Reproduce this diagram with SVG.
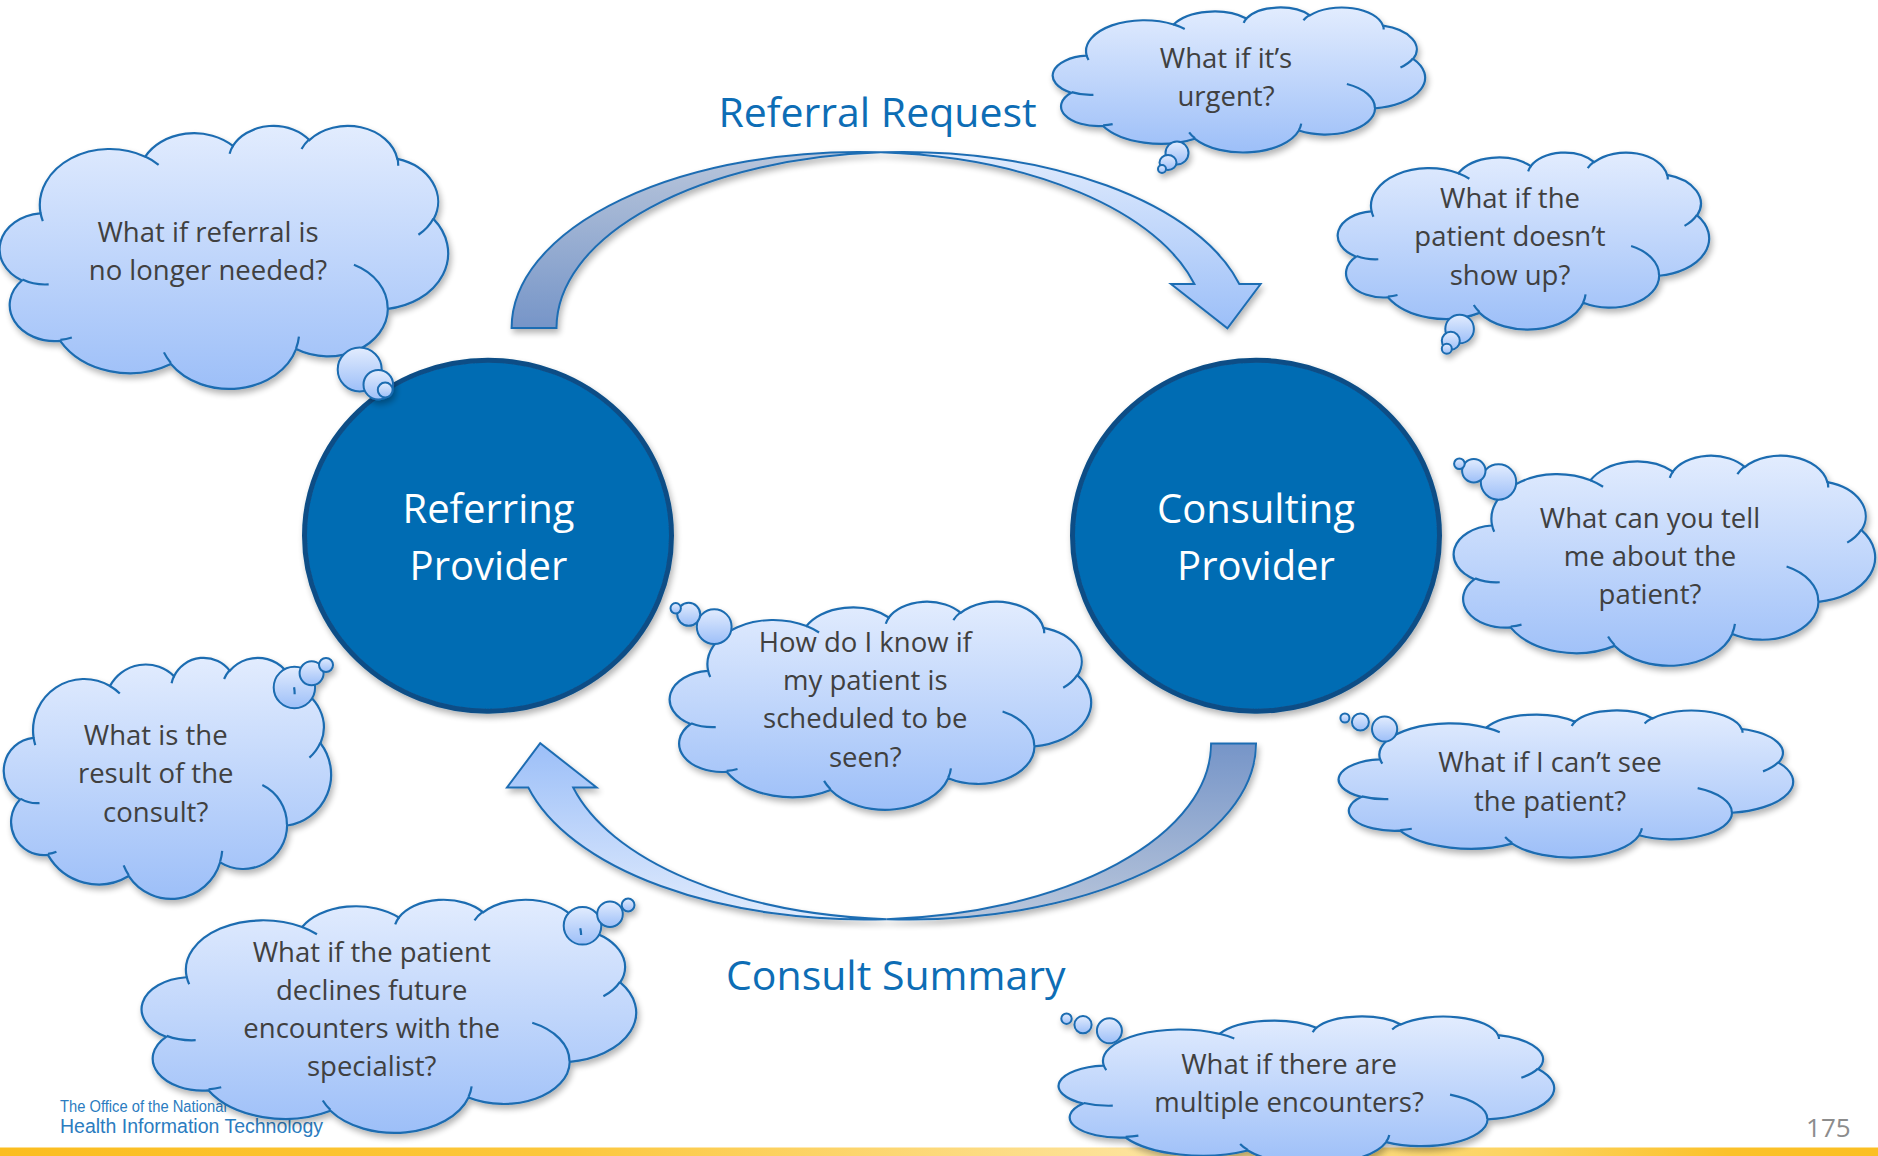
<svg xmlns="http://www.w3.org/2000/svg" xmlns:xlink="http://www.w3.org/1999/xlink" width="1878" height="1156" viewBox="0 0 1878 1156">
<defs>
<linearGradient id="gc" x1="0" y1="0" x2="0" y2="1"><stop offset="0" stop-color="#e2ecfe"/><stop offset="1" stop-color="#9dbff8"/></linearGradient>
<linearGradient id="gf" x1="0" y1="0" x2="0" y2="1"><stop offset="0" stop-color="#e0ebfd"/><stop offset="1" stop-color="#9cbff8"/></linearGradient>
<linearGradient id="gb" x1="0" y1="0" x2="0" y2="1"><stop offset="0" stop-color="#b9c6db"/><stop offset="1" stop-color="#7695c8"/></linearGradient>
<linearGradient id="gbar" x1="0" y1="0" x2="1" y2="0"><stop offset="0" stop-color="#fbbd1f"/><stop offset="0.3" stop-color="#fcc73c"/><stop offset="0.62" stop-color="#fde4a0"/><stop offset="0.82" stop-color="#fcd25c"/><stop offset="0.92" stop-color="#fbc12a"/><stop offset="1" stop-color="#fbbf22"/></linearGradient>
<filter id="sh" x="-10%" y="-10%" width="125%" height="130%"><feGaussianBlur in="SourceAlpha" stdDeviation="3"/><feOffset dx="2" dy="4" result="o"/><feComponentTransfer><feFuncA type="linear" slope="0.3"/></feComponentTransfer><feMerge><feMergeNode/><feMergeNode in="SourceGraphic"/></feMerge></filter>
<path id="cb" vector-effect="non-scaling-stroke" d="M 39 143.7 A 67.53 91.9 0 0 1 140.06 52.03 A 53.33 72.67 0 0 1 224.57 34.33 A 43.65 59.45 0 0 1 298.33 24.79 A 48.57 65.95 0 0 1 383.18 55.76 A 53.33 72.73 0 0 1 418.18 154.59 A 67.75 92.2 0 0 1 374.03 302 A 57.85 78.67 0 0 1 285.55 368.1 A 67.52 92.15 0 0 1 164.8 392.63 A 77.2 105.43 0 0 1 58.02 354.67 A 43.6 59.18 0 0 1 21.11 255.46 A 43.45 59.45 0 0 1 38.61 145.03 Z"/>
<path id="ca" vector-effect="non-scaling-stroke" fill="none" d="M 46.93 261.77 A 43.45 59.45 0 0 1 21.59 253.79 M 69.28 348.99 A 43.6 59.18 0 0 1 58.19 352.81 M 164.78 390.9 A 67.52 92.15 0 0 1 158.09 373.48 M 288.27 347.51 A 67.52 92.15 0 0 1 285.61 366.59 M 341.29 229.54 A 57.85 78.67 0 0 1 373.81 300.9 M 417.98 153.54 A 53.33 72.73 0 0 1 403.5 180.3 M 383.24 54.26 A 48.57 65.95 0 0 1 384 66.9 M 290.78 39.52 A 48.57 65.95 0 0 1 298.21 23.38 M 221.41 47.2 A 43.65 59.45 0 0 1 225 33.31 M 140 51.92 A 67.53 91.9 0 0 1 152.98 65.38 M 41.27 157.89 A 67.53 91.9 0 0 1 39 143.71"/>
<g id="arrowShape">
<path class="back" d="M 511.6 328 A 346.9 176 0 0 1 880.95 152.37 A 346.9 176 0 0 0 556.5 328 Z"/>
<path class="front" d="M 880.95 152.37 A 346.9 176 0 0 1 1239.3 284 L 1260.6 284 L 1227.4 328.3 L 1171 284 L 1194.4 284 A 346.9 176 0 0 0 880.95 152.37 Z"/>
</g>
</defs>
<style>
.body{fill:url(#gc);stroke:#1b6cb1;stroke-width:2.2}
.arcs{stroke:#1b6cb1;stroke-width:2.2}
.bub{fill:url(#gc);stroke:#1b6cb1;stroke-width:2}
.ct{font-family:"Open Sans","DejaVu Sans",sans-serif;font-size:27.5px;fill:#404040;text-anchor:middle}
.pv{fill:#066cb3;stroke:#0a4e86;stroke-width:5}
.pt{font-family:"Open Sans","DejaVu Sans",sans-serif;font-size:40px;fill:#ffffff;text-anchor:middle}
.tt{font-family:"Open Sans","DejaVu Sans",sans-serif;font-size:41px;fill:#0d6db5;text-anchor:middle}
.back{fill:url(#gb);stroke:#1f6db3;stroke-width:2}
.front{fill:url(#gf);stroke:#1f6db3;stroke-width:2}
</style>
<rect width="1878" height="1156" fill="#ffffff"/>
<rect x="0" y="1147.5" width="1878" height="8.5" fill="url(#gbar)"/>
<g id="footer">
<text x="60" y="1111.7" font-family="Liberation Sans, Arial, sans-serif" font-size="16" fill="#2b7cc0" textLength="166.7" lengthAdjust="spacingAndGlyphs">The Office of the National</text>
<text x="60" y="1133.3" font-family="Liberation Sans, Arial, sans-serif" font-size="19.5" fill="#2b7cc0">Health Information Technology</text>
<text x="1828.4" y="1137.3" font-family="Open Sans, sans-serif" font-size="26" fill="#8c8c8c" text-anchor="middle">175</text>
</g>
<g id="connectors">
<g id="referral-arrow" filter="url(#sh)"><use xlink:href="#arrowShape"/></g>
<g id="consult-arrow" filter="url(#sh)"><use xlink:href="#arrowShape" transform="matrix(-1 0 0 -1 1767.6 1071.5)"/></g>
<text class="tt" x="877.5" y="126.7">Referral Request</text>
<text class="tt" x="895.8" y="990">Consult Summary</text>
</g>
<g id="referring-provider">
<ellipse class="pv" cx="488" cy="535.7" rx="183.5" ry="175.5" filter="url(#sh)"/>
<text class="pt" x="488.5" y="522.7">Referring</text>
<text class="pt" x="488.5" y="580">Provider</text>
</g>
<g id="consulting-provider">
<ellipse class="pv" cx="1256" cy="535.7" rx="183.5" ry="175.5" filter="url(#sh)"/>
<text class="pt" x="1256" y="522.7">Consulting</text>
<text class="pt" x="1256" y="580">Provider</text>
</g>
<g id="cloud-no-longer-needed">
<g filter="url(#sh)">
<use class="body" xlink:href="#cb" transform="translate(0 125) scale(1.037 0.6088)"/>
<circle class="bub" cx="359.7" cy="369.5" r="22"/>
<circle class="bub" cx="378.3" cy="384.7" r="14.8"/>
<circle class="bub" cx="385.2" cy="390" r="7.4"/>
</g>
<use class="arcs" xlink:href="#ca" transform="translate(0 125) scale(1.037 0.6088)"/>
<text class="ct" x="208" y="241.7">What if referral is</text>
<text class="ct" x="208" y="280">no longer needed?</text>
</g>
<g id="cloud-urgent">
<g filter="url(#sh)">
<use class="body" xlink:href="#cb" transform="translate(1053 7) scale(0.8611 0.3356)"/>
<circle class="bub" cx="1177" cy="153" r="11.5"/>
<ellipse class="bub" cx="1168" cy="162.5" rx="8.5" ry="7.5"/>
<circle class="bub" cx="1162" cy="169" r="4"/>
</g>
<use class="arcs" xlink:href="#ca" transform="translate(1053 7) scale(0.8611 0.3356)"/>
<text class="ct" x="1226" y="67.5">What if it’s</text>
<text class="ct" x="1226" y="106">urgent?</text>
</g>
<g id="cloud-no-show">
<g filter="url(#sh)">
<use class="body" xlink:href="#cb" transform="translate(1338 152) scale(0.8588 0.4097)"/>
<circle class="bub" cx="1459.6" cy="329" r="14.3"/>
<circle class="bub" cx="1450.8" cy="340.8" r="9"/>
<circle class="bub" cx="1446.8" cy="348.7" r="5"/>
</g>
<use class="arcs" xlink:href="#ca" transform="translate(1338 152) scale(0.8588 0.4097)"/>
<text class="ct" x="1510" y="207.5">What if the</text>
<text class="ct" x="1510" y="246">patient doesn’t</text>
<text class="ct" x="1510" y="284.5">show up?</text>
</g>
<g id="cloud-tell-me">
<g filter="url(#sh)">
<use class="body" xlink:href="#cb" transform="translate(1454 455) scale(0.9745 0.4861)"/>
<circle class="bub" cx="1498.5" cy="482" r="17.7"/>
<circle class="bub" cx="1473.8" cy="470.7" r="11.7"/>
<circle class="bub" cx="1459.4" cy="463.8" r="5.3"/>
</g>
<use class="arcs" xlink:href="#ca" transform="translate(1454 455) scale(0.9745 0.4861)"/>
<text class="ct" x="1650" y="527.7">What can you tell</text>
<text class="ct" x="1650" y="566">me about the</text>
<text class="ct" x="1650" y="604.3">patient?</text>
</g>
<g id="cloud-cant-see">
<g filter="url(#sh)">
<use class="body" xlink:href="#cb" transform="translate(1339 710) scale(1.0509 0.3403)"/>
<circle class="bub" cx="1384.6" cy="729" r="12.6"/>
<circle class="bub" cx="1360.4" cy="722" r="8.5"/>
<circle class="bub" cx="1344.9" cy="718" r="4.5"/>
</g>
<use class="arcs" xlink:href="#ca" transform="translate(1339 710) scale(1.0509 0.3403)"/>
<text class="ct" x="1550" y="771.7">What if I can’t see</text>
<text class="ct" x="1550" y="810.7">the patient?</text>
</g>
<g id="cloud-scheduled">
<g filter="url(#sh)">
<use class="body" xlink:href="#cb" transform="translate(670 601) scale(0.9745 0.4815)"/>
<circle class="bub" cx="714.2" cy="626.7" r="17.4"/>
<circle class="bub" cx="688.7" cy="614.3" r="11.5"/>
<circle class="bub" cx="675.7" cy="608.3" r="5.2"/>
</g>
<use class="arcs" xlink:href="#ca" transform="translate(670 601) scale(0.9745 0.4815)"/>
<text class="ct" x="865.3" y="651.7">How do I know if</text>
<text class="ct" x="865.3" y="690">my patient is</text>
<text class="ct" x="865.3" y="728.3">scheduled to be</text>
<text class="ct" x="865.3" y="766.7">seen?</text>
</g>
<g id="cloud-result">
<g filter="url(#sh)">
<use class="body" xlink:href="#cb" transform="translate(4 657) scale(0.7569 0.5579)"/>
<circle class="bub" cx="294.4" cy="687.5" r="20.7"/>
<circle class="bub" cx="311.6" cy="673.3" r="12"/>
<circle class="bub" cx="326" cy="665" r="7"/>
</g>
<use class="arcs" xlink:href="#ca" transform="translate(4 657) scale(0.7569 0.5579)"/>
<text class="ct" x="155.7" y="745">What is the</text>
<text class="ct" x="155.7" y="783.4">result of the</text>
<text class="ct" x="155.7" y="821.8">consult?</text>
</g>
<g id="cloud-declines">
<g filter="url(#sh)">
<use class="body" xlink:href="#cb" transform="translate(142 899) scale(1.1435 0.5394)"/>
<circle class="bub" cx="582.5" cy="925.8" r="18.8"/>
<circle class="bub" cx="610" cy="914.2" r="12.8"/>
<circle class="bub" cx="628.1" cy="905" r="6.4"/>
</g>
<use class="arcs" xlink:href="#ca" transform="translate(142 899) scale(1.1435 0.5394)"/>
<text class="ct" x="371.7" y="961.7">What if the patient</text>
<text class="ct" x="371.7" y="1000">declines future</text>
<text class="ct" x="371.7" y="1037.7">encounters with the</text>
<text class="ct" x="371.7" y="1076">specialist?</text>
</g>
<g id="cloud-multiple">
<g filter="url(#sh)">
<use class="body" xlink:href="#cb" transform="translate(1059 1016) scale(1.1458 0.3426)"/>
<circle class="bub" cx="1109.4" cy="1030.8" r="12.5"/>
<circle class="bub" cx="1083" cy="1024.7" r="8.6"/>
<circle class="bub" cx="1066.5" cy="1018.7" r="5.2"/>
</g>
<use class="arcs" xlink:href="#ca" transform="translate(1059 1016) scale(1.1458 0.3426)"/>
<text class="ct" x="1289" y="1073.5">What if there are</text>
<text class="ct" x="1289" y="1111.5">multiple encounters?</text>
</g>
</svg>
